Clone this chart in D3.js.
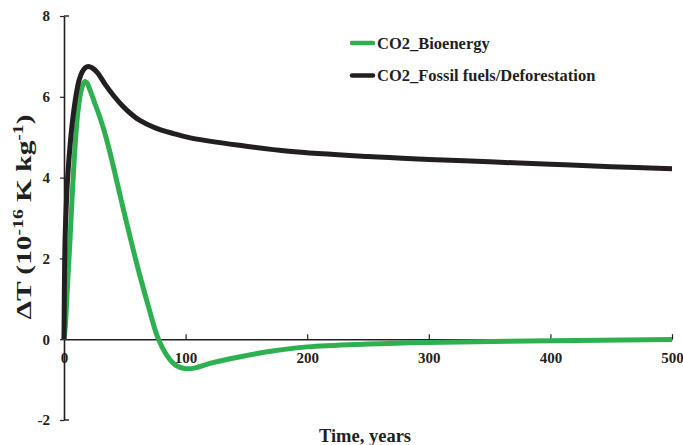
<!DOCTYPE html>
<html>
<head>
<meta charset="utf-8">
<script src="https://cdn.jsdelivr.net/npm/d3@7"></script>
<style>
  body { margin: 0; background: #fff; }
  svg { display: block; font-family: "Liberation Serif", "Times New Roman", serif; font-weight: bold; }
</style>
</head>
<body>
<svg id="chart" width="683" height="445"></svg>
<script>
// time in years
const bioYears = [0, 1, 2, 3, 5, 7, 9.6, 11.5, 13.7, 15.5, 17.3, 19, 21, 25, 30, 35, 40, 47, 55, 62, 70, 77, 85, 92, 100, 108, 120, 144, 170, 200, 250, 300, 400, 500];
const bioValues = [0, 0.3, 0.8, 1.4, 2.5, 3.7, 5.0, 5.65, 6.1, 6.3, 6.38, 6.34, 6.2, 5.87, 5.45, 4.95, 4.35, 3.45, 2.45, 1.62, 0.75, 0.05, -0.42, -0.65, -0.73, -0.71, -0.6, -0.44, -0.3, -0.19, -0.12, -0.08, -0.04, -0.01];

const fossilYears = [0, 0.5, 1, 2, 3, 5, 7, 10, 12.3, 15, 17.5, 20, 23, 27.5, 34, 41, 48, 55, 62, 75, 90, 103, 144, 185, 250, 300, 350, 400, 450, 500];
const fossilValues = [0, 1.8, 2.6, 3.4, 4.0, 4.8, 5.4, 6.05, 6.4, 6.62, 6.72, 6.75, 6.72, 6.6, 6.3, 6.02, 5.78, 5.58, 5.42, 5.23, 5.09, 4.99, 4.8, 4.65, 4.52, 4.45, 4.39, 4.33, 4.27, 4.22];

const xTicks = [100, 200, 300, 400, 500];
const yTicks = [-2, 0, 2, 4, 6, 8];

const seriesNames = ["CO2_Bioenergy", "CO2_Fossil fuels/Deforestation"];
const seriesColors = ["#2fb050", "#231f20"];

const svg = d3.select("#chart");
const width = 683, height = 445;
const margins = { left: 64, right: 11, top: 16, bottom: 25 };

const x = d3.scaleLinear().domain([0, 500]).range([margins.left, width - margins.right]);
const y = d3.scaleLinear().domain([-2, 8]).range([height - margins.bottom, margins.top]);

// y axis line + outward ticks
const yAxis = svg.append("g")
  .attr("transform", `translate(${x(0)},0)`)
  .call(d3.axisLeft(y).tickValues(yTicks).tickFormat(String).tickSize(4).tickSizeOuter(0).tickPadding(10))
  .attr("font-family", null)
  .attr("font-size", "15px");
yAxis.select(".domain").attr("stroke", "#231f20").attr("stroke-width", 1.6);
yAxis.selectAll(".tick line").attr("stroke", "#231f20").attr("stroke-width", 1.2);
yAxis.selectAll(".tick text").attr("fill", "#231f20");

// end caps at top and bottom of y axis
svg.append("g").selectAll("line")
  .data([8, -2])
  .join("line")
  .attr("x1", x(0)).attr("x2", x(0) + 5)
  .attr("y1", (d) => y(d)).attr("y2", (d) => y(d))
  .attr("stroke", "#231f20").attr("stroke-width", 1.4);

// x axis at y = 0, ticks pointing up
const xAxis = svg.append("g")
  .attr("transform", `translate(0,${y(0)})`)
  .call(d3.axisBottom(x).tickValues([0].concat(xTicks)).tickFormat(String).tickSize(-5).tickSizeOuter(0).tickPadding(13))
  .attr("font-family", null)
  .attr("font-size", "15px");
xAxis.select(".domain").attr("stroke", "#231f20").attr("stroke-width", 1.6);
xAxis.selectAll(".tick line").attr("stroke", "#231f20").attr("stroke-width", 1.2)
  .filter((d) => d === 0).remove();
xAxis.selectAll(".tick text").attr("fill", "#231f20");

// axis titles
svg.append("text")
  .attr("x", 365)
  .attr("y", 442)
  .attr("text-anchor", "middle")
  .attr("font-size", "18.5px")
  .attr("fill", "#231f20")
  .text("Time, years");

// y title is stretched along its length in the original
const yTitle = svg.append("text")
  .attr("transform", `translate(31,${217}) rotate(-90)`)
  .attr("text-anchor", "middle")
  .attr("font-size", "21px")
  .attr("textLength", 205)
  .attr("lengthAdjust", "spacingAndGlyphs")
  .attr("fill", "#231f20");
yTitle.append("tspan").text("\u0394T (10");
yTitle.append("tspan").attr("font-size", "14px").attr("dy", -8).text("-16");
yTitle.append("tspan").attr("dy", 8).text(" K kg");
yTitle.append("tspan").attr("font-size", "14px").attr("dy", -8).text("-1");
yTitle.append("tspan").attr("dy", 8).text(")");

// lines
const line = d3.line()
  .x((d) => x(d[0]))
  .y((d) => y(d[1]))
  .curve(d3.curveCatmullRom.alpha(0.5));

const series = [
  d3.zip(bioYears, bioValues),
  d3.zip(fossilYears, fossilValues)
];

svg.append("g").selectAll("path")
  .data(series)
  .join("path")
  .attr("d", line)
  .attr("fill", "none")
  .attr("stroke", (d, i) => seriesColors[i])
  .attr("stroke-width", 5)
  .attr("stroke-linejoin", "round");

// legend
const legend = svg.append("g").attr("transform", "translate(352,43)");
const items = legend.selectAll("g")
  .data(seriesNames)
  .join("g")
  .attr("transform", (d, i) => `translate(0,${i * 32.5})`);
items.append("line")
  .attr("x1", 0).attr("x2", 21)
  .attr("stroke", (d, i) => seriesColors[i])
  .attr("stroke-width", 4.5)
  .attr("stroke-linecap", "round");
items.append("text")
  .attr("x", 25)
  .attr("dy", "0.35em")
  .attr("font-size", "16.5px")
  .attr("fill", "#231f20")
  .text((d) => d);
</script>
</body>
</html>
